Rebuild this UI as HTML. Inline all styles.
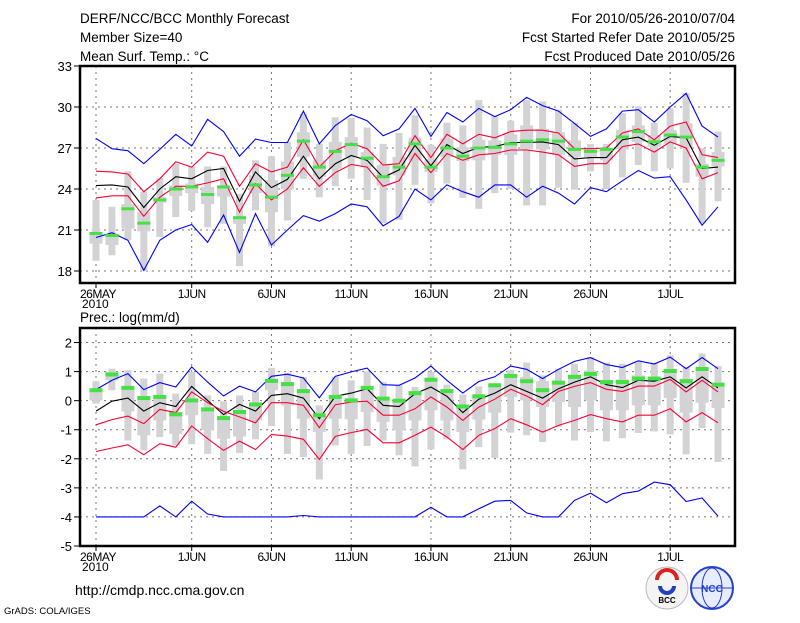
<!DOCTYPE html>
<html><head><meta charset="utf-8"><title>DERF/NCC/BCC Monthly Forecast</title>
<style>
html,body{margin:0;padding:0;background:#fff;}
body{width:800px;height:618px;overflow:hidden;font-family:"Liberation Sans",sans-serif;}
svg text{font-family:"Liberation Sans",sans-serif;fill:#000;}
</style></head>
<body>
<svg id="chart" width="800" height="618" viewBox="0 0 800 618" xmlns="http://www.w3.org/2000/svg">
<g font-size="13.5">
<text x="80" y="23">DERF/NCC/BCC Monthly Forecast</text>
<text x="80" y="42">Member Size=40</text>
<text x="80" y="61">Mean Surf. Temp.: °C</text>
<text x="735" y="23" text-anchor="end">For 2010/05/26-2010/07/04</text>
<text x="735" y="42" text-anchor="end">Fcst Started Refer Date 2010/05/25</text>
<text x="735" y="61" text-anchor="end">Fcst Produced Date 2010/05/26</text>
</g>
<text x="80" y="322" font-size="13.5">Prec.: log(mm/d)</text>
<text x="75" y="595" font-size="14">http://cmdp.ncc.cma.gov.cn</text>
<text x="4" y="614" font-size="9.5">GrADS: COLA/IGES</text>
<g>
<circle cx="667" cy="588" r="21" fill="#f4f4f4" stroke="#bbb"/>
<path d="M657 580 a10 10 0 1 1 20 0" fill="none" stroke="#d22" stroke-width="4"/>
<path d="M660 586 a7 7 0 0 0 14 0" fill="none" stroke="#2340c0" stroke-width="4"/>
<text x="667" y="603" font-size="8" text-anchor="middle" font-weight="bold">BCC</text>
</g>
<g>
<circle cx="712" cy="588" r="21" fill="#e8ecff" stroke="#2340d0" stroke-width="2"/>
<ellipse cx="712" cy="588" rx="10" ry="20" fill="none" stroke="#2340d0"/>
<line x1="692" y1="588" x2="732" y2="588" stroke="#2340d0"/>
<text x="712" y="592" font-size="10" text-anchor="middle" font-weight="bold" style="fill:#2340d0">NCC</text>
</g>
<g id="top"></g>
<g id="bot"></g>
</svg>
<script>
// ---- Temperature panel data (°C), days 0..39 from 26 May ----
const tMax=[27.7,26.95,26.8,25.85,26.9,28.0,27.15,29.1,28.2,26.4,27.65,27.4,27.4,29.7,27.3,28.65,29.45,29.0,27.9,28.4,29.9,27.85,29.6,28.9,29.9,29.3,29.8,30.7,30.1,29.7,28.8,27.85,28.4,29.7,29.8,28.9,30.0,31.0,28.6,27.8];
const tUp=[25.3,25.25,25.1,23.8,24.75,26.0,25.6,26.7,26.4,24.2,25.85,25.25,25.6,27.6,25.6,26.8,27.35,26.95,25.75,25.85,27.9,26.3,28.0,27.3,28.0,27.75,28.2,28.3,28.3,28.1,26.95,26.95,27.0,28.1,28.4,27.6,28.6,28.9,26.5,26.3];
const tMean=[24.25,24.3,24.15,22.65,24.0,24.9,24.75,25.35,25.5,23.1,25.25,24.1,24.7,26.4,24.75,25.85,26.45,26.1,24.85,25.4,27.2,25.7,27.25,26.6,27.05,27.1,27.4,27.4,27.45,27.25,26.2,26.3,26.3,27.6,27.8,27.2,27.85,27.75,25.5,25.6];
const tLow=[23.35,23.5,23.5,22.0,23.4,24.2,24.2,24.45,24.75,22.3,24.4,23.2,24.0,25.55,24.2,25.2,25.8,25.6,24.2,24.6,26.6,25.2,26.6,26.1,26.5,26.6,26.85,26.85,26.7,26.5,25.65,25.85,25.85,27.1,27.3,26.7,27.45,27.0,24.75,25.2];
const tMin=[20.45,20.8,20.25,18.05,20.25,21.0,21.4,20.1,22.1,19.35,22.2,19.9,21.0,22.05,21.65,22.2,22.9,22.7,21.3,22.0,24.0,23.2,24.3,23.8,23.4,24.3,24.3,23.4,24.2,23.7,22.9,24.1,23.8,24.6,25.35,24.8,24.9,23.2,21.35,22.7];
const tObs=[20.75,20.6,22.55,21.5,23.2,24.0,24.15,23.6,24.15,21.9,24.3,23.4,25.0,27.5,25.6,26.75,27.25,26.25,24.9,25.6,27.3,25.6,27.0,26.4,27.0,27.05,27.3,27.5,27.6,27.5,26.9,26.75,26.9,27.8,28.2,27.45,27.95,27.8,25.6,26.1];
const tWhiHi=[23.2,22.7,25.3,23.8,24.8,25.85,25.65,25.65,25.65,23.65,26.1,26.4,27.45,29.5,27.3,29.25,29.2,28.5,27.3,28.1,29.4,27.25,28.85,28.65,30.5,29.3,29.0,30.5,30.4,29.8,28.85,27.3,27.3,29.55,30.05,28.85,29.9,31.0,27.0,28.2];
const tWhiLo=[18.75,19.15,20.25,18.0,20.5,21.95,22.4,21.2,21.45,18.35,22.45,19.8,21.7,24.75,23.4,24.2,24.75,23.2,21.5,21.75,24.3,22.95,24.4,23.35,22.55,23.7,24.0,22.8,22.8,24.1,23.95,25.3,24.0,24.85,25.75,25.3,25.5,24.45,21.5,23.1];
const tBoxHi=[20.75,20.6,22.9,22.3,23.4,24.25,24.4,24.15,24.25,22.0,25.0,24.65,26.0,28.15,26.1,27.45,27.8,26.7,25.75,26.35,27.75,26.15,27.7,27.05,27.6,27.55,28.0,28.65,28.4,28.15,27.55,27.0,26.95,28.3,28.65,27.95,28.3,28.8,25.85,26.7];
const tBoxLo=[20.0,19.9,21.1,20.9,23.0,23.5,23.7,22.9,23.45,21.45,23.7,22.3,24.0,26.35,24.9,25.5,26.35,25.6,24.25,25.0,26.1,25.25,26.35,26.05,26.1,26.5,26.5,26.9,26.9,26.5,26.35,26.35,26.1,26.9,27.45,27.1,27.3,27.0,24.9,25.65];
const tTicks=[18,21,24,27,30,33];

// ---- Precipitation panel data (log mm/d) ----
const pMax=[0.38,0.7,0.93,0.38,0.62,0.47,1.16,0.64,0.16,0.5,0.3,0.84,0.91,0.78,0.1,0.84,0.99,1.12,0.55,0.53,0.78,1.19,0.7,0.26,0.66,0.82,1.19,1.08,0.76,1.08,1.35,1.48,1.24,1.14,1.37,1.26,1.5,1.1,1.48,1.1];
const pUp=[-0.36,-0.02,0.09,-0.36,-0.07,-0.2,0.49,0.01,-0.48,-0.13,-0.36,0.18,0.24,0.09,-0.62,0.15,0.26,0.41,-0.16,-0.2,0.24,0.47,0.15,-0.41,0.05,0.26,0.55,0.32,0.09,0.41,0.64,0.82,0.55,0.45,0.7,0.67,0.82,0.44,0.82,0.44];
const pR1=[-0.83,-0.65,-0.53,-0.79,-0.3,-0.41,0.3,-0.07,-0.37,-0.56,-0.76,-0.07,-0.07,-0.16,-0.93,-0.14,-0.05,-0.02,-0.5,-0.5,-0.28,0.13,-0.22,-0.68,-0.22,0.05,0.39,0.16,-0.14,0.32,0.49,0.62,0.39,0.32,0.5,0.5,0.73,0.3,0.7,0.3];
const pR2=[-1.75,-1.63,-1.52,-1.86,-1.48,-1.6,-0.87,-1.31,-1.71,-1.39,-1.68,-1.16,-1.22,-1.33,-2.02,-1.23,-1.1,-0.99,-1.45,-1.45,-1.19,-0.91,-1.25,-1.68,-1.19,-0.96,-0.62,-0.83,-1.08,-0.85,-0.68,-0.48,-0.62,-0.73,-0.5,-0.5,-0.28,-0.73,-0.41,-0.76];
const pMin=[-4,-4,-4,-4,-3.62,-4,-3.46,-3.9,-4,-4,-4,-4,-4,-3.95,-4,-4,-4,-4,-4,-4,-4,-3.67,-4,-4,-3.72,-3.46,-3.43,-3.86,-4,-4,-3.43,-3.18,-3.51,-3.2,-3.11,-2.8,-2.89,-3.47,-3.35,-3.97];
const pObs=[0.36,0.9,0.44,0.09,0.13,-0.47,0.01,-0.3,-0.6,-0.39,-0.13,0.68,0.57,0.33,-0.5,0.13,0.01,0.44,0.07,0.0,0.26,0.72,0.33,-0.2,0.15,0.53,0.85,0.67,0.36,0.62,0.82,0.92,0.64,0.64,0.76,0.76,1.02,0.67,1.09,0.55];
const pWhiHi=[0.67,1.1,1.05,0.76,0.93,0.24,0.99,0.18,-0.02,0.18,0.3,1.13,0.95,0.82,-0.16,0.82,0.7,1.01,0.64,0.53,0.47,0.99,0.55,0.21,0.49,0.59,1.05,1.31,0.87,1.1,1.27,1.5,1.31,1.27,1.35,1.31,1.56,1.16,1.62,1.19];
const pWhiLo=[-0.1,0.36,-1.37,-1.71,-1.25,-1.54,-1.5,-1.83,-2.42,-1.8,-1.33,-0.87,-1.83,-1.94,-2.71,-1.54,-1.83,-1.56,-1.37,-1.88,-2.26,-1.68,-1.33,-2.36,-1.6,-1.97,-1.1,-1.19,-1.42,-0.91,-1.37,-1.08,-1.4,-1.29,-1.11,-1.06,-1.16,-1.85,-0.94,-2.11];
const pBoxHi=[0.36,0.99,0.41,0.09,0.13,-0.39,0.01,-0.33,-0.62,-0.41,-0.16,0.7,0.53,0.36,-0.56,0.09,0.01,0.36,0.13,0.01,0.24,0.76,0.32,-0.16,0.13,0.47,0.82,0.82,0.67,0.64,0.87,1.04,0.7,0.73,0.87,0.82,1.1,0.76,1.16,0.62];
const pBoxLo=[0.01,0.7,-0.37,-1.19,-0.68,-1.14,-0.5,-1.02,-1.31,-1.23,-0.68,0.36,-0.16,-0.62,-1.08,-0.62,-0.64,-0.39,-0.73,-1.02,-0.68,-0.33,-0.68,-1.08,-0.65,-0.41,0.13,0.01,-0.22,-0.05,-0.22,0.01,-0.33,-0.33,-0.16,-0.16,0.09,-0.41,-0.07,-0.25];
const pTicks=[-5,-4,-3,-2,-1,0,1,2];

const dateLabels=["26MAY","1JUN","6JUN","11JUN","16JUN","21JUN","26JUN","1JUL"];
const dateDays=[0,6,11,16,21,26,31,36];

const NS="http://www.w3.org/2000/svg";
function mk(parent,tag,attrs){const e=document.createElementNS(NS,tag);for(const k in attrs)e.setAttribute(k,attrs[k]);parent.appendChild(e);return e;}
const X0=80,X1=735;
function xDay(d){return 96+d*15.95;}

function drawPanel(g,cfg){
  const yv=v=>cfg.yTop+(cfg.vMax-v)/(cfg.vMax-cfg.vMin)*(cfg.yBot-cfg.yTop);
  // grid
  cfg.ticks.forEach(t=>{
    if(t!==cfg.vMin&&t!==cfg.vMax){const l=mk(g,'line',{x1:X0,x2:X1,y1:yv(t),y2:yv(t),stroke:'#777','stroke-dasharray':'2,4','stroke-width':1});
    
    }
    const tk=mk(g,'line',{x1:X0-6,x2:X0,y1:yv(t),y2:yv(t),stroke:'#000'});
    
    
    const tx=mk(g,'text',{x:X0-8,y:yv(t)+5,'text-anchor':'end','font-size':13});
    tx.textContent=t;
    
    
  });
  dateDays.forEach((d,i)=>{
    const x=xDay(d);
    const l=mk(g,'line',{x1:x,x2:x,y1:cfg.yTop,y2:cfg.yBot,stroke:'#777','stroke-dasharray':'2,4','stroke-width':1});
    
    
    const tk=mk(g,'line',{x1:x,x2:x,y1:cfg.yBot,y2:cfg.yBot+5,stroke:'#000'});
    
    
    const tx=mk(g,'text',{x:i===0?x-16:x,y:cfg.yBot+15,'text-anchor':i===0?'start':'middle','font-size':12,'letter-spacing':'-0.5'});
    tx.textContent=dateLabels[i];
    
    
  });
  const yr=mk(g,'text',{x:xDay(0)-14,y:cfg.yBot+25,'font-size':12});
  yr.textContent='2010';
  
  
  // gray boxes
  for(let d=0;d<cfg.whiHi.length;d++){
    const x=xDay(d);
    const w=mk(g,'rect',{x:x-3.5,width:7,y:yv(cfg.whiHi[d]),height:Math.max(0,yv(cfg.whiLo[d])-yv(cfg.whiHi[d])),fill:'#d3d3d6'});
    
    
    const b=mk(g,'rect',{x:x-6.5,width:13,y:yv(cfg.boxHi[d]),height:Math.max(0,yv(cfg.boxLo[d])-yv(cfg.boxHi[d])),fill:'#d3d3d6'});
    
    
  }
  // lines
  cfg.lines.forEach(s=>{
    const pts=s.data.map((v,d)=>xDay(d).toFixed(1)+','+yv(v).toFixed(1)).join(' ');
    const p=mk(g,'polyline',{points:pts,fill:'none',stroke:s.color,'stroke-width':1.1});
    
    
  });
  // green obs marks
  cfg.obs.forEach((v,d)=>{
    const r=mk(g,'rect',{x:xDay(d)-6.5,width:13,y:yv(v)-cfg.gh/2,height:cfg.gh,fill:'#44e044'});
    
    
  });
  const f=mk(g,'rect',{x:X0,y:cfg.yTop,width:X1-X0,height:cfg.yBot-cfg.yTop,fill:'none',stroke:'#000','stroke-width':2.5});
  
  
}

drawPanel(document.getElementById('top'),{yTop:66,yBot:283,vMin:18,vMax:33,yMapBot:271,ticks:tTicks,
  whiHi:tWhiHi,whiLo:tWhiLo,boxHi:tBoxHi,boxLo:tBoxLo,obs:tObs,gh:3,
  lines:[{data:tMax,color:'#0000ff',name:'max-line'},{data:tUp,color:'#ff0033',name:'upper-line'},{data:tMean,color:'#000',name:'mean-line'},{data:tLow,color:'#ff0033',name:'lower-line'},{data:tMin,color:'#0000ff',name:'min-line'}]});
</script>
<script>
// fix temperature mapping: 33 at y=66, 18 at y=271 (axis extends below 18 to frame at 283)
(function(){
  const g=document.getElementById('top');
  while(g.firstChild)g.removeChild(g.firstChild);
})();
(function(){
  const g=document.getElementById('top');
  const per=(271-66)/15;
  const vMinFrame=33-(283-66)/per;
  const cfg={yTop:66,yBot:283,vMin:vMinFrame,vMax:33,ticks:tTicks,
    whiHi:tWhiHi,whiLo:tWhiLo,boxHi:tBoxHi,boxLo:tBoxLo,obs:tObs,gh:3,
    lines:[{data:tMax,color:'#0000ff',name:'max-line'},{data:tUp,color:'#ff0033',name:'upper-line'},{data:tMean,color:'#000',name:'mean-line'},{data:tLow,color:'#ff0033',name:'lower-line'},{data:tMin,color:'#0000ff',name:'min-line'}]};
  drawPanel(g,cfg);
  drawPanel(document.getElementById('bot'),{yTop:328,yBot:546,vMin:-5,vMax:2.5,ticks:pTicks,
    whiHi:pWhiHi,whiLo:pWhiLo,boxHi:pBoxHi,boxLo:pBoxLo,obs:pObs,gh:4,
    lines:[{data:pMax,color:'#0000ff',name:'max-line'},{data:pUp,color:'#000',name:'mean-line'},{data:pR1,color:'#ff0033',name:'upper-line'},{data:pR2,color:'#ff0033',name:'lower-line'},{data:pMin,color:'#0000ff',name:'min-line'}]});
})();
</script>
</body></html>
